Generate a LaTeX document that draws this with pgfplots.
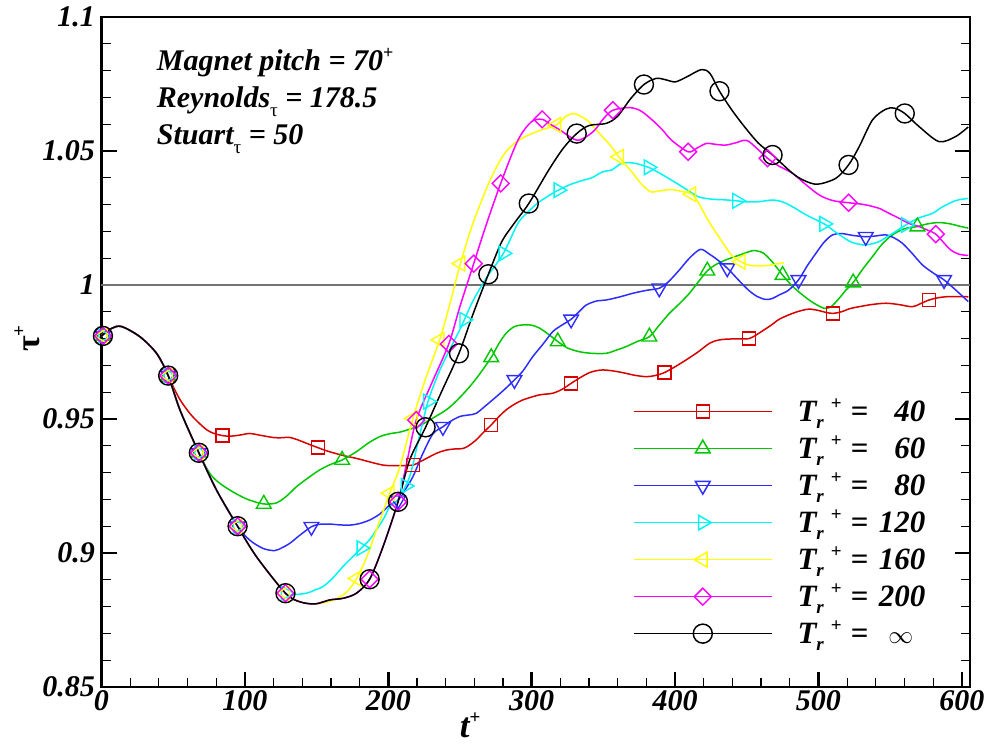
\documentclass[border=0pt]{standalone}
\usepackage{fontspec}
\setmainfont{Liberation Serif}
\usepackage{pgfplots}
\pgfplotsset{compat=1.18}
\definecolor{cR}{RGB}{215,0,0}
\definecolor{cG}{RGB}{0,200,0}
\definecolor{cB}{RGB}{45,45,255}
\definecolor{cC}{RGB}{0,245,245}
\definecolor{cY}{RGB}{255,255,0}
\definecolor{cM}{RGB}{255,0,255}
\newcommand{\tf}{\fontsize{30}{36}\selectfont\bfseries\itshape}
\newcommand{\lf}{\fontsize{31}{36}\selectfont\bfseries\itshape}
\newcommand{\Tr}{T\raisebox{-7pt}{\fontsize{19}{19}\selectfont r}\hspace{7pt}\raisebox{12pt}{\fontsize{19}{19}\selectfont\upshape +}\hspace{9pt}=\hspace{10pt}}
\pgfplotsset{
  legimg/.style 2 args={legend image code/.code={
    \draw[#1,line width=1.5pt] (0pt,10pt) -- (138pt,10pt);
    \draw[#1,line width=1.5pt,#2] plot coordinates {(69pt,10pt)};}},
  ln/.style={forget plot, smooth, line width=1.5pt, mark=none},
  mk/.style={only marks, line width=1.4pt},
}
\begin{document}
\begin{tikzpicture}
\path[use as bounding box] (-101.5pt,-57pt) rectangle (885.5pt,687pt);
\begin{axis}[
  scale only axis, width=868.5pt, height=670pt,
  xmin=0, xmax=605.7, ymin=0.85, ymax=1.1,
  clip=false,
  axis line style={line width=2.5pt},
  xtick={0,100,200,300,400,500,600},
  xticklabels={0,100,200,300,400,500,600},
  ytick={0.85,0.9,0.95,1,1.05,1.1},
  yticklabels={0.85,0.9,0.95,1,1.05,1.1},
  minor x tick num=4, minor y tick num=4,
  xtick pos=left, ytick pos=both, yticklabel pos=left,
  tick align=inside,
  major tick length=15pt, minor tick length=9pt,
  major tick style={line width=2.5pt, black},
  minor tick style={line width=1.2pt, black},
  tick label style={font=\tf},
  yticklabel style={xshift=-3pt},
  xlabel={t\raisebox{14pt}{\fontsize{19}{19}\selectfont\upshape +}},
  xlabel style={font=\fontsize{35}{40}\selectfont\bfseries\itshape, at={(axis description cs:0.4245,0)}, anchor=base, yshift=-50pt},
  ylabel={τ\raisebox{14pt}{\fontsize{19}{19}\selectfont\upshape +}},
  ylabel style={font=\fontsize{34}{40}\selectfont\bfseries, at={(axis description cs:-0.0858,0.52)}, anchor=center, rotate=0},
  legend style={at={(axis cs:370.7,0.9576)}, anchor=north west, draw=none, fill=none,
    inner sep=0pt, outer sep=0pt, row sep=0pt, column sep=25pt, font=\lf,
    cells={anchor=base west}, nodes={inner sep=0pt, text height=23pt, text depth=14pt}},
]
% reference line
\addplot[forget plot, color=black!55, line width=1.3pt] coordinates {(0,1) (605.7,1)};

% ---------- lines ----------
\addplot[ln, cR] coordinates {
(0,0.981) (7,0.9838) (14,0.9845) (26.8,0.9807) (38.4,0.9745) (46.5,0.9662)
(50,0.9621) (55,0.957) (61.6,0.9521) (67,0.949) (73.3,0.946) (78,0.9447) (84.4,0.9438) (90,0.9436) (96.5,0.944) (103.4,0.9446) (110,0.944) (119.7,0.9431) (125,0.943) (131.3,0.9431) (138,0.942) (145,0.9405) (151,0.9393) (156,0.9383) (161.5,0.9374) (170,0.9362) (177.8,0.9353) (187,0.934) (196.3,0.9328) (202,0.9326) (208,0.9326) (217.2,0.9328) (222,0.934) (228.8,0.9359) (234,0.9373) (240.4,0.9384) (246,0.9388) (252,0.939) (256,0.940) (261.3,0.9422) (266,0.9448) (271.8,0.9478) (277,0.9508) (282.2,0.9534) (288,0.9555) (293.8,0.9571) (300,0.9582) (305.5,0.959) (310,0.9593) (314.7,0.9596) (321,0.961) (327.5,0.9633) (334,0.9655) (340.3,0.9673) (345,0.968) (349.6,0.9683) (356,0.968) (363.5,0.9673) (372,0.9663) (379.8,0.9658) (386,0.9662) (392.5,0.9673) (400,0.9695) (407.6,0.972) (416,0.975) (423.9,0.9782) (429.8,0.9794) (436,0.9798) (444,0.9799) (451.7,0.980) (457,0.9815) (461.9,0.9832) (467,0.985) (472.6,0.9872) (480,0.989) (487,0.9903) (493.5,0.991) (500,0.9905) (505,0.9898) (510.2,0.9894) (516,0.990) (522,0.9912) (528.4,0.9919) (537,0.9927) (547,0.9932) (556,0.9927) (565.5,0.9919) (571,0.993) (577.1,0.9944) (583,0.9952) (588.7,0.9956) (596,0.9957) (604.5,0.9956)};

\addplot[ln, cG] coordinates {
(0,0.981) (7,0.9838) (14,0.9845) (26.8,0.9807) (38.4,0.9745) (46.5,0.9662) (54.7,0.9534) (67.9,0.9374)
(75.6,0.9297) (82,0.9262) (89.5,0.9235) (96,0.9215) (103.4,0.9197) (113.2,0.9183) (122,0.9187) (129,0.9212) (135.9,0.9247) (144,0.928) (151.9,0.9309) (160,0.9331) (167.8,0.9347) (177.8,0.9378) (186,0.941) (194,0.9434) (201,0.9445) (208,0.9451) (215,0.9462) (221.9,0.9475) (230,0.950) (240.4,0.9534) (248,0.957) (256.7,0.962) (264,0.967) (271.8,0.973) (277,0.978) (282.2,0.982) (288,0.9845) (293.8,0.9851) (300,0.985) (305.5,0.9839) (312,0.9815) (318.2,0.9789) (325,0.9765) (333.3,0.9751) (342,0.9745) (351.9,0.9745) (358,0.9755) (365.8,0.977) (374,0.979) (382.1,0.9807) (389,0.985) (396,0.9894) (403,0.993) (410,0.9969) (416,1.001) (422.5,1.0053) (428,1.0075) (435.1,1.0093) (444,1.011) (453.9,1.0128) (458,1.0126) (461.9,1.0118) (468,1.0085) (475,1.0037) (482,0.9995) (488.9,0.9963) (496,0.9935) (504,0.9913) (509,0.992) (514.4,0.995) (519,0.998) (524.2,1.0009) (531,1.006) (537.7,1.0106) (544,1.015) (551.6,1.0187) (560,1.021) (569,1.0218) (576,1.0228) (584.1,1.0233) (592,1.0228) (598,1.022) (604.5,1.0212)};

\addplot[ln, cB] coordinates {
(0,0.981) (7,0.9838) (14,0.9845) (26.8,0.9807) (38.4,0.9745) (46.5,0.9662) (54.7,0.9534) (67.9,0.9374) (80.2,0.9235) (94.9,0.910)
(103.4,0.9048) (112.7,0.9017) (120.8,0.9009) (126,0.902) (131.3,0.9036) (138,0.9065) (146.4,0.9098) (152,0.9107) (159.2,0.9108) (166,0.9105) (173.1,0.9104) (180,0.911) (187,0.9123) (194,0.9145) (201,0.9179) (206.8,0.9197) (211,0.923) (217.2,0.9285) (224,0.937) (231.2,0.9445) (238.1,0.9471) (243,0.949) (249.7,0.9509) (256,0.9515) (261.3,0.9521) (268,0.955) (275.3,0.9583) (281,0.961) (288,0.9646) (294,0.968) (300.8,0.9733) (308,0.978) (314.7,0.9826) (321,0.985) (327.5,0.9872) (333,0.990) (338,0.9925) (345,0.994) (351.9,0.9944) (361,0.9955) (370.5,0.9969) (380,0.998) (389,0.9988) (395,1.001) (403,1.0056) (410,1.010) (417.7,1.0133) (424,1.0115) (429.8,1.0093) (436.4,1.0063) (444,1.002) (451.2,0.9981) (457,0.9958) (463.2,0.9946) (468,0.995) (472.6,0.9963) (479,0.998) (486.1,1.0019) (492,1.007) (498.2,1.0118) (504,1.016) (509.8,1.0187) (516,1.0192) (524,1.0185) (533,1.018) (540,1.0183) (547,1.0187) (553,1.0175) (558.5,1.0156) (565,1.012) (572.5,1.0075) (580,1.0045) (587.6,1.0019) (596,0.998) (604.5,0.9938)};

\addplot[ln, cC] coordinates {
(0,0.981) (7,0.9838) (14,0.9845) (26.8,0.9807) (38.4,0.9745) (46.5,0.9662) (54.7,0.9534) (67.9,0.9374) (80.2,0.9235) (94.9,0.910) (108.1,0.8986) (128.3,0.885)
(135,0.8845) (142.9,0.885) (148,0.886) (154.5,0.8875) (161,0.8905) (168.5,0.895) (175,0.8985) (181.2,0.9018) (187,0.905) (191.7,0.9086) (197,0.913) (201,0.9173) (206.8,0.920) (214.9,0.9285) (221,0.942) (227.7,0.9565) (235,0.967) (242,0.975) (250.3,0.9838) (259,0.994) (269,1.0031) (280.3,1.0118) (290.4,1.023) (297,1.027) (303.8,1.0304) (311,1.033) (318.6,1.0354) (327,1.0375) (336,1.0391) (342,1.040) (349.4,1.0422) (356,1.043) (362.8,1.0454) (371,1.0455) (381.5,1.0439) (390,1.0415) (397.6,1.0391) (407,1.036) (416.4,1.0329) (426,1.032) (434,1.0318) (443.2,1.0314) (450,1.031) (458.7,1.0311) (468,1.0317) (475,1.031) (481.9,1.0292) (492,1.026) (504,1.0228) (510,1.0205) (516.7,1.018) (523,1.016) (530.7,1.015) (536,1.0152) (542.3,1.0162) (551,1.019) (560.9,1.0224) (570,1.025) (579.4,1.0267) (586,1.029) (593.4,1.031) (598,1.0318) (604.5,1.0323)};

\addplot[ln, cY] coordinates {
(0,0.981) (7,0.9838) (14,0.9845) (26.8,0.9807) (38.4,0.9745) (46.5,0.9662) (54.7,0.9534) (67.9,0.9374) (80.2,0.9235) (94.9,0.910) (108.1,0.8986) (128.3,0.885) (138.3,0.8818) (149,0.881)
(159.2,0.882) (166,0.8835) (172,0.886) (178,0.8905) (185,0.8985) (192,0.909) (201,0.9223) (208,0.932) (217.2,0.9502) (226,0.965) (235.8,0.9795) (243,0.993) (250.3,1.008) (259,1.023) (269,1.0366) (274.4,1.0429) (281,1.049) (287.8,1.0528) (296,1.0555) (306.5,1.0578) (317.2,1.0597) (324,1.063) (329.3,1.064) (334,1.063) (338.7,1.0615) (344,1.0585) (349.4,1.0553) (355,1.052) (360.9,1.0478) (370.8,1.0416) (376,1.038) (382.9,1.0348) (390,1.0352) (397.6,1.0356) (404,1.035) (411.5,1.0339) (416,1.031) (421.7,1.0254) (428,1.020) (435.1,1.0143) (440,1.0108) (445.8,1.0087) (451,1.0075) (456.5,1.0071) (465,1.0073) (470,1.0078) (476,1.0083)};

\addplot[ln, cM] coordinates {
(0,0.981) (7,0.9838) (14,0.9845) (26.8,0.9807) (38.4,0.9745) (46.5,0.9662) (54.7,0.9534) (67.9,0.9374) (80.2,0.9235) (94.9,0.910) (108.1,0.8986) (128.3,0.885) (138.3,0.8818) (149,0.881) (159.2,0.8825) (168.5,0.8831) (177.8,0.885) (187,0.8902) (196.3,0.9023) (206.8,0.9191)
(213,0.934) (219.5,0.9496) (230,0.963) (242.2,0.978) (250,0.992) (259.6,1.008) (268,1.022) (278.4,1.0379) (290.4,1.054) (299.8,1.0609) (307.3,1.0618) (313,1.060) (319.9,1.0578) (326,1.0555) (332,1.054) (338,1.0553) (344,1.0578) (350,1.062) (356.6,1.0652) (368.1,1.0662) (376,1.065) (384.2,1.0615) (391,1.058) (397.6,1.054) (409.1,1.0497) (415,1.051) (421.7,1.0528) (428,1.0525) (435.1,1.0522) (442,1.053) (449.8,1.054) (457,1.051) (464.5,1.0473) (472,1.0445) (481.9,1.0417) (490,1.038) (500.5,1.0336) (510,1.0315) (521,1.0307) (532,1.030) (542.3,1.0286) (549,1.0268) (556.2,1.0249) (563,1.023) (570.2,1.0218) (576,1.0205) (581.8,1.019) (587,1.016) (592.2,1.0131) (598,1.0115) (604.5,1.011)};

\addplot[ln, black] coordinates {
(0,0.981) (7,0.9838) (14,0.9845) (26.8,0.9807) (38.4,0.9745) (46.5,0.9662) (54.7,0.9534) (67.9,0.9374) (80.2,0.9235) (94.9,0.910) (108.1,0.8986) (128.3,0.885) (138.3,0.8818) (149,0.881) (159.2,0.8825) (168.5,0.8831) (177.8,0.885) (187,0.8902) (196.3,0.9023) (206.8,0.9191) (214.9,0.9347) (226,0.9469) (237,0.960) (249.3,0.9745) (259,0.989) (269.8,1.004) (279,1.016) (287.8,1.023) (298,1.0304) (311.9,1.0429) (322,1.051) (331.4,1.0565) (340,1.0595) (352,1.0603) (360,1.063) (369,1.0695) (378.3,1.0748) (386.9,1.0771) (394,1.0765) (400.3,1.0758) (408.3,1.0777) (418.5,1.0804) (424.4,1.0789) (431,1.0723) (440,1.065) (448.5,1.059) (458,1.053) (468,1.0485) (481.9,1.0417) (490,1.039) (499.3,1.0376) (512.1,1.0398) (521,1.0448) (528.4,1.0516) (537.7,1.0616) (547,1.0656) (553,1.066) (560.2,1.064) (570.2,1.0591) (584.1,1.0535) (595.7,1.0554) (604.5,1.059)};

% ---------- markers ----------
\addplot[mk, cR, mark=square, mark size=6.5pt, legimg={cR}{mark=square, mark size=6.5pt}] coordinates {
(1,0.981) (46.5,0.9662) (84.4,0.9438) (151,0.9393) (217.2,0.9328) (271.8,0.9478) (327.5,0.9633) (392.5,0.9673) (451.7,0.980) (510.2,0.9894) (577.1,0.9944)};
\addlegendentry{\Tr\makebox[47pt][r]{40}}

\addplot[mk, cG, mark=triangle, mark size=8.5pt, legimg={cG}{mark=triangle, mark size=8.5pt}] coordinates {
(1,0.981) (46.5,0.9662) (67.9,0.9374) (113.2,0.9183) (167.8,0.9347) (271.8,0.973) (318.2,0.9789) (382.1,0.9807) (422.5,1.0053) (475,1.0037) (524.2,1.0009) (569,1.0218)};
\addlegendentry{\Tr\makebox[47pt][r]{60}}

\addplot[mk, cB, mark=triangle, mark size=8.5pt, mark options={rotate=180}, legimg={cB}{mark=triangle, mark size=8.5pt, mark options={rotate=180}}] coordinates {
(1,0.981) (46.5,0.9662) (67.9,0.9374) (94.9,0.910) (146.4,0.9098) (206.8,0.9197) (238.1,0.9471) (288,0.9646) (327.5,0.9872) (389,0.9988) (436.4,1.0063) (486.1,1.0019) (533,1.018) (587.6,1.0019)};
\addlegendentry{\Tr\makebox[47pt][r]{80}}

\addplot[mk, cC, mark=triangle, mark size=8.5pt, mark options={rotate=-90}, legimg={cC}{mark=triangle, mark size=8.5pt, mark options={rotate=-90}}] coordinates {
(1,0.981) (46.5,0.9662) (67.9,0.9374) (94.9,0.910) (128.3,0.885) (181.2,0.9018) (212,0.925) (227.7,0.9565) (253,0.987) (280.3,1.0118) (318.6,1.0354) (381.5,1.0439) (443.2,1.0314) (504,1.0228) (560.9,1.0224)};
\addlegendentry{\Tr\makebox[47pt][r]{120}}

\addplot[mk, cY, mark=triangle, mark size=8.5pt, mark options={rotate=90}, legimg={cY}{mark=triangle, mark size=8.5pt, mark options={rotate=90}}] coordinates {
(1,0.981) (46.5,0.9662) (67.9,0.9374) (94.9,0.910) (128.3,0.885) (178,0.8905) (201,0.9223) (217.2,0.9502) (235.8,0.9795) (250.3,1.008) (317.2,1.0597) (360.9,1.0478) (411.5,1.0339) (445.8,1.0087)};
\addlegendentry{\Tr\makebox[47pt][r]{160}}

\addplot[mk, cM, mark=square, mark size=6pt, mark options={rotate=45}, legimg={cM}{mark=square, mark size=6pt, mark options={rotate=45}}] coordinates {
(1,0.981) (46.5,0.9662) (67.9,0.9374) (94.9,0.910) (128.3,0.885) (187,0.8902) (206.8,0.9191) (219.5,0.9496) (242.2,0.978) (259.6,1.008) (278.4,1.0379) (307.3,1.0618) (356.6,1.0652) (409.1,1.0497) (464.5,1.0473) (521,1.0307) (581.8,1.019)};
\addlegendentry{\Tr\makebox[47pt][r]{200}}

\addplot[mk, black, mark=o, mark size=9.5pt, legimg={black}{mark=o, mark size=9.5pt}] coordinates {
(1,0.981) (46.5,0.9662) (67.9,0.9374) (94.9,0.910) (128.3,0.885) (187,0.8902) (206.8,0.9191) (226,0.9469) (249.3,0.9745) (269.8,1.004) (298,1.0304) (331.4,1.0565) (378.3,1.0748) (431,1.0723) (468,1.0485) (521,1.0448) (560.2,1.064)};
\addlegendentry{\Tr\makebox[47pt][l]{\hspace{10pt}\upshape$\mathbf{\infty}$}}

% annotation
\node[anchor=base west, font=\tf, inner sep=0pt] at (axis cs:38.5,1.08) {Magnet pitch = 70\raisebox{12pt}{\fontsize{18}{18}\selectfont\upshape +}};
\node[anchor=base west, font=\tf, inner sep=0pt] at (axis cs:38.5,1.0664) {Reynolds\raisebox{-9pt}{\fontsize{19}{19}\selectfont\mdseries\upshape τ} = 178.5};
\node[anchor=base west, font=\tf, inner sep=0pt] at (axis cs:38.5,1.0526) {Stuart\raisebox{-9pt}{\fontsize{19}{19}\selectfont\mdseries\upshape τ} = 50};
\end{axis}
\end{tikzpicture}
\end{document}
